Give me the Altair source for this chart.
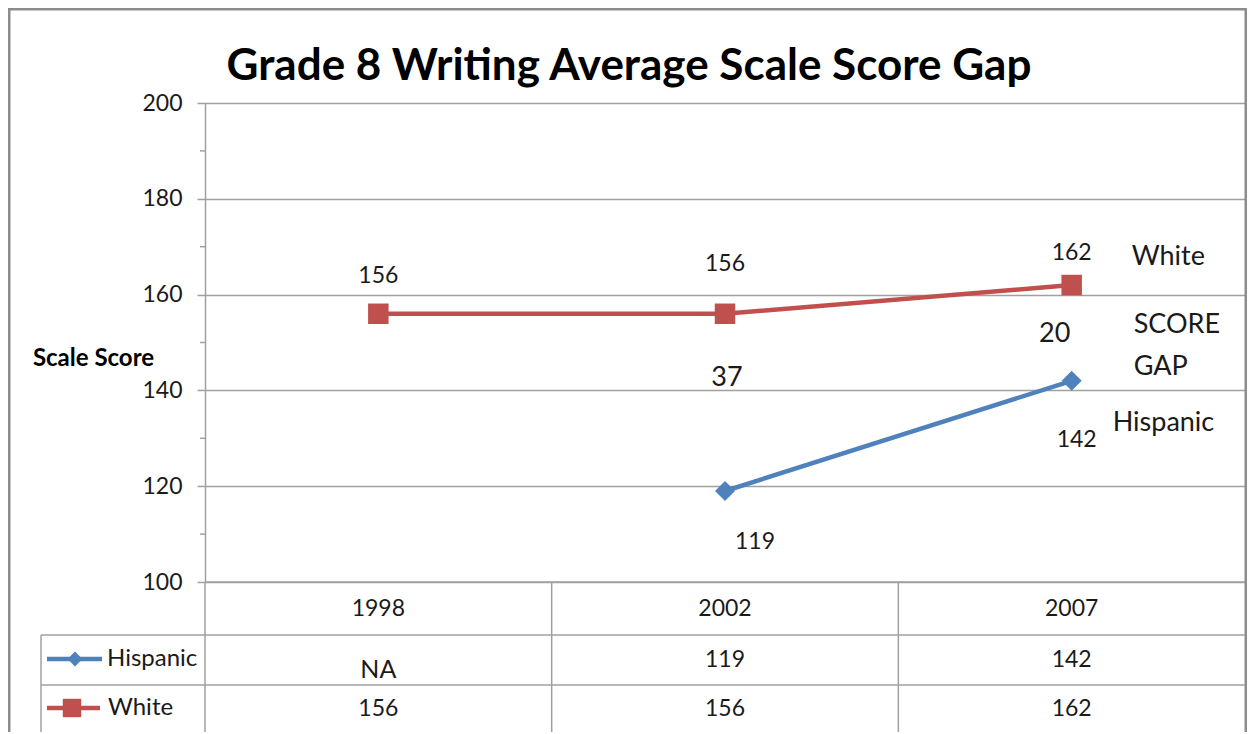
import altair as alt
import pandas as pd

# ---- data ----
years = ["1998", "2002", "2007"]
hispanic_scores = [None, 119, 142]
white_scores = [156, 156, 162]
hispanic_table = ["NA", "119", "142"]
white_table = ["156", "156", "162"]
y_ticks = [100, 120, 140, 160, 180, 200]
minor_ticks = [110, 130, 150, 170, 190]
groups = ["Hispanic", "White"]
title_text = "Grade 8 Writing Average Scale Score Gap"

BLUE = "#4F81BD"
RED = "#C0504D"
GRID = "#a0a0a0"
FONT = "Lato"
TXT = "#1a1a1a"

W, H = 1040, 479

long_df = pd.DataFrame({
    "year": years * 2,
    "group": ["Hispanic"] * 3 + ["White"] * 3,
    "score": hispanic_scores + white_scores,
})
wide_df = pd.DataFrame({"year": years, "hispanic": hispanic_scores, "white": white_scores})
table_df = pd.DataFrame({"year": years, "hisp": hispanic_table, "white": white_table})
one = pd.DataFrame({"a": [0]})

x_enc = alt.X("year:N", scale=alt.Scale(type="point", padding=0.5, domain=years), axis=None)
y_scale = alt.Scale(domain=[100, 200], nice=False, zero=False)
y_axis = alt.Axis(
    values=y_ticks, grid=True, gridColor=GRID, gridWidth=1.5,
    tickSize=8, tickColor=GRID, tickWidth=1.5, domainColor=GRID, domainWidth=1.5,
    labelFont=FONT, labelFontSize=23, labelColor=TXT, labelPadding=15,
    titleAngle=0, titleFont=FONT, titleFontSize=24, titleFontWeight="bold", titleColor="#000",
    titleX=-112, titleY=255, titleAlign="center", titleBaseline="middle")
color_enc = alt.Color("group:N", scale=alt.Scale(domain=groups, range=[BLUE, RED]), legend=None)

def yq(field):
    return alt.Y(field, type="quantitative", scale=y_scale, axis=y_axis, title="Scale Score")

layers = []

# outer border
layers.append(alt.Chart(one).mark_rect(filled=False, stroke="#8c8c8c", strokeWidth=3).encode(
    x=alt.value(-196), x2=alt.value(W + 1), y=alt.value(-94), y2=alt.value(640)))

# title
layers.append(alt.Chart(one).mark_text(
    text=title_text, font=FONT, fontSize=44, fontWeight="bold", color="#000",
    align="center", baseline="alphabetic").encode(x=alt.value(424), y=alt.value(-23)))

# minor ticks
layers.append(alt.Chart(pd.DataFrame({"v": minor_ticks})).mark_rule(color=GRID, strokeWidth=1.5).encode(
    y=yq("v"), x=alt.value(-5), x2=alt.value(0)))

# lines
layers.append(alt.Chart(long_df).mark_line(strokeWidth=4.5).encode(
    x=x_enc, y=yq("score"), color=color_enc))

# markers
layers.append(alt.Chart(long_df).transform_filter("datum.group == 'White'").mark_point(
    shape="square", filled=True, size=420, color=RED, opacity=1).encode(x=x_enc, y=yq("score")))
layers.append(alt.Chart(long_df).transform_filter("datum.group == 'Hispanic' && datum.score != null").mark_point(
    shape="diamond", filled=True, size=400, color=BLUE, opacity=1).encode(x=x_enc, y=yq("score")))

# value labels (offsets per point, as in the original)
white_offsets = {"1998": (0, -38), "2002": (0, -50), "2007": (0, -32)}
hisp_offsets = {"2002": (30, 51), "2007": (5, 59)}
for grp, offs in (("White", white_offsets), ("Hispanic", hisp_offsets)):
    for yr, (dx, dy) in offs.items():
        layers.append(alt.Chart(long_df).transform_filter(
            f"datum.group == '{grp}' && datum.year == '{yr}'").mark_text(
            font=FONT, fontSize=23, color=TXT, dx=dx, dy=dy, baseline="middle").encode(
            x=x_enc, y=yq("score"), text=alt.Text("score:Q", format="d")))

# gap labels
gap_base = alt.Chart(wide_df).transform_filter("datum.hispanic != null").transform_calculate(
    gap="datum.white - datum.hispanic", mid="(datum.white + datum.hispanic) / 2")
gap_offsets = {"2002": (2, -24), "2007": (-17, 1)}
for yr, (dx, dy) in gap_offsets.items():
    layers.append(gap_base.transform_filter(f"datum.year == '{yr}'").mark_text(
        font=FONT, fontSize=27, color=TXT, dx=dx, dy=dy, baseline="middle").encode(
        x=x_enc, y=yq("mid"), text=alt.Text("gap:Q", format="d")))

# side annotations at 2007
last = wide_df[wide_df.year == "2007"]
def annot(text, field, dx, dy, size=27):
    return alt.Chart(last).mark_text(text=text, font=FONT, fontSize=size, color=TXT, align="left",
                                     baseline="middle", dx=dx, dy=dy).encode(x=x_enc, y=yq(field))
layers.append(annot("White", "white", 60, -28))
layers.append(annot("Hispanic", "hispanic", 41, 42))
gap_mid = alt.Chart(last).transform_calculate(mid="(datum.white + datum.hispanic) / 2")
layers.append(gap_mid.mark_text(text="SCORE", font=FONT, fontSize=27, color=TXT, align="left",
                                baseline="middle", dx=62, dy=-8).encode(x=x_enc, y=yq("mid")))
layers.append(gap_mid.mark_text(text="GAP", font=FONT, fontSize=27, color=TXT, align="left",
                                baseline="middle", dx=62, dy=34).encode(x=x_enc, y=yq("mid")))

# data table grid lines
def rule(x, x2, y, y2):
    return alt.Chart(one).mark_rule(color=GRID, strokeWidth=1.5).encode(
        x=alt.value(x), x2=alt.value(x2), y=alt.value(y), y2=alt.value(y2))
layers.append(rule(0, W, H, H))
layers.append(rule(-164, W, 532, 532))
layers.append(rule(-164, W, 582, 582))
layers.append(rule(-164, -164, 532, 640))
layers.append(rule(0, 0, H, 640))
layers.append(rule(W / 3, W / 3, H, 640))
layers.append(rule(2 * W / 3, 2 * W / 3, H, 640))

# table text
layers.append(alt.Chart(table_df).mark_text(font=FONT, fontSize=23, color=TXT, baseline="middle").encode(
    x=x_enc, y=alt.value(506), text="year:N"))
layers.append(alt.Chart(table_df).transform_filter("datum.hisp != 'NA'").mark_text(
    font=FONT, fontSize=23, color=TXT, baseline="middle").encode(x=x_enc, y=alt.value(557), text="hisp:N"))
layers.append(alt.Chart(table_df).transform_filter("datum.hisp == 'NA'").mark_text(
    font=FONT, fontSize=25, color=TXT, baseline="middle").encode(x=x_enc, y=alt.value(567), text="hisp:N"))
layers.append(alt.Chart(table_df).mark_text(font=FONT, fontSize=23, color=TXT, baseline="middle").encode(
    x=x_enc, y=alt.value(606), text="white:N"))

# table legend keys
layers.append(alt.Chart(one).mark_rule(color=BLUE, strokeWidth=4.5).encode(
    x=alt.value(-158), x2=alt.value(-103), y=alt.value(556)))
layers.append(alt.Chart(one).mark_point(shape="diamond", filled=True, size=220, color=BLUE, opacity=1).encode(
    x=alt.value(-130), y=alt.value(556)))
layers.append(alt.Chart(one).mark_text(text="Hispanic", font=FONT, fontSize=24, color=TXT, align="left",
                                       baseline="middle").encode(x=alt.value(-98), y=alt.value(556)))
layers.append(alt.Chart(one).mark_rule(color=RED, strokeWidth=4.5).encode(
    x=alt.value(-158), x2=alt.value(-105), y=alt.value(605)))
layers.append(alt.Chart(one).mark_point(shape="square", filled=True, size=340, color=RED, opacity=1).encode(
    x=alt.value(-133), y=alt.value(605)))
layers.append(alt.Chart(one).mark_text(text="White", font=FONT, fontSize=24, color=TXT, align="left",
                                       baseline="middle").encode(x=alt.value(-97), y=alt.value(605)))

chart = alt.layer(*layers).properties(
    width=W, height=H,
    autosize=alt.AutoSizeParams(type="none"),
    padding={"left": 197, "top": 95, "right": 2, "bottom": 150},
).configure_view(stroke=None).configure(background="white")

chart.save("out.html", embed_options={"renderer": "svg", "actions": False})
